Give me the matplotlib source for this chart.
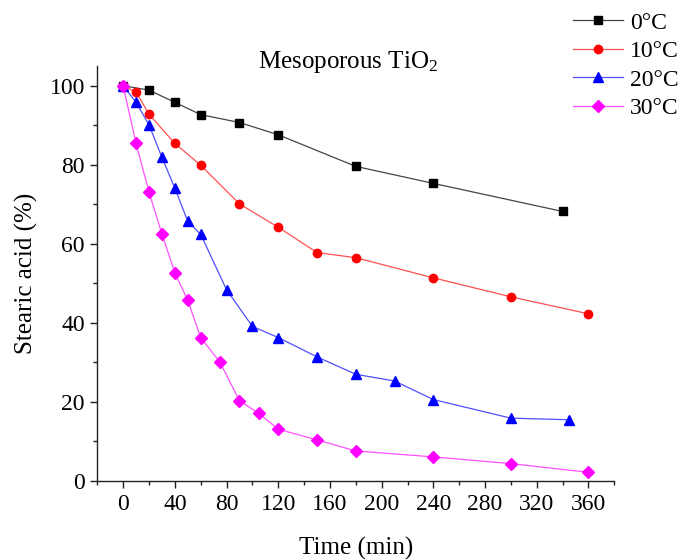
import matplotlib
matplotlib.use("Agg")
import matplotlib.pyplot as plt
from matplotlib.ticker import MultipleLocator

plt.rcParams['font.family'] = ['Liberation Serif', 'DejaVu Serif']
plt.rcParams['mathtext.fontset'] = 'custom'
plt.rcParams['mathtext.rm'] = 'Liberation Serif'
plt.rcParams['mathtext.it'] = 'Liberation Serif:italic'
plt.rcParams['mathtext.default'] = 'regular'

# Stearic acid remaining (%) vs irradiation time (min)
t_0C = [0, 20, 40, 60, 90, 120, 180, 240, 340]
v_0C = [100, 98.9, 95.8, 92.7, 90.7, 87.6, 79.6, 75.3, 68.2]

t_10C = [0, 10, 20, 40, 60, 90, 120, 150, 180, 240, 300, 360]
v_10C = [100, 98.4, 92.8, 85.4, 79.9, 70.1, 64.2, 57.8, 56.5, 51.4, 46.6, 42.3]

t_20C = [0, 10, 20, 30, 40, 50, 60, 80, 100, 120, 150, 180, 210, 240, 300, 345]
v_20C = [100, 95.8, 90.1, 81.9, 74.1, 65.7, 62.4, 48.4, 39.1, 36.3, 31.4, 27.0,
         25.3, 20.6, 15.9, 15.5]

t_30C = [0, 10, 20, 30, 40, 50, 60, 75, 90, 105, 120, 150, 180, 240, 300, 360]
v_30C = [100, 85.4, 73.1, 62.5, 52.7, 45.7, 36.3, 30.0, 20.3, 17.1, 13.1, 10.4,
         7.6, 6.1, 4.4, 2.2]

labels = ['0°C', '10°C', '20°C', '30°C']
colors = ['black', 'red', 'blue', 'magenta']
line_colors = ['#444444', '#ff5050', '#5050ff', '#ff50ff']
markers = ['s', 'o', '^', 'D']
msizes = [5.5, 6, 7, 6]

fig = plt.figure(figsize=(6.88, 5.6), dpi=100)
ax = fig.add_axes([97.3 / 688, 1 - 481 / 560, (614.3 - 97.3) / 688, (481 - 66) / 560])

series = [(t_0C, v_0C), (t_10C, v_10C), (t_20C, v_20C), (t_30C, v_30C)]
handles = []
for (t, v), lab, c, lc, m, ms in zip(series, labels, colors, line_colors, markers, msizes):
    h, = ax.plot(t, v, color=lc, linewidth=0.9, marker=m, markersize=ms,
                 markerfacecolor=c, markeredgecolor=c, label=lab)
    handles.append(h)

ax.set_xlim(-20, 380)
ax.set_ylim(0, 105)
ax.xaxis.set_major_locator(MultipleLocator(40))
ax.xaxis.set_minor_locator(MultipleLocator(20))
ax.yaxis.set_major_locator(MultipleLocator(20))
ax.yaxis.set_minor_locator(MultipleLocator(10))

for s in ['top', 'right']:
    ax.spines[s].set_visible(False)
for s in ['left', 'bottom']:
    ax.spines[s].set_linewidth(1.0)
    ax.spines[s].set_color('#222222')

ax.tick_params(which='major', direction='out', length=5, width=1.0, labelsize=17,
               color='#222222', pad=4)
ax.tick_params(which='minor', direction='out', length=3, width=1.0, color='#222222')

ax.set_xlabel('Time (min)', fontsize=18, labelpad=16)
ax.set_ylabel('Stearic acid (%)', fontsize=18, labelpad=8)

fig.text(348 / 688, 1 - 62 / 560, 'Mesoporous TiO$_2$', fontsize=18,
         ha='center', va='center')

fig.legend(handles=handles, loc='upper left', bbox_to_anchor=(573 / 688, 1 - 12 / 560),
           frameon=False, fontsize=17, borderpad=0, labelspacing=0.3,
           handlelength=2.1, handletextpad=0.3, borderaxespad=0)

fig.savefig('out.png', dpi=100)
